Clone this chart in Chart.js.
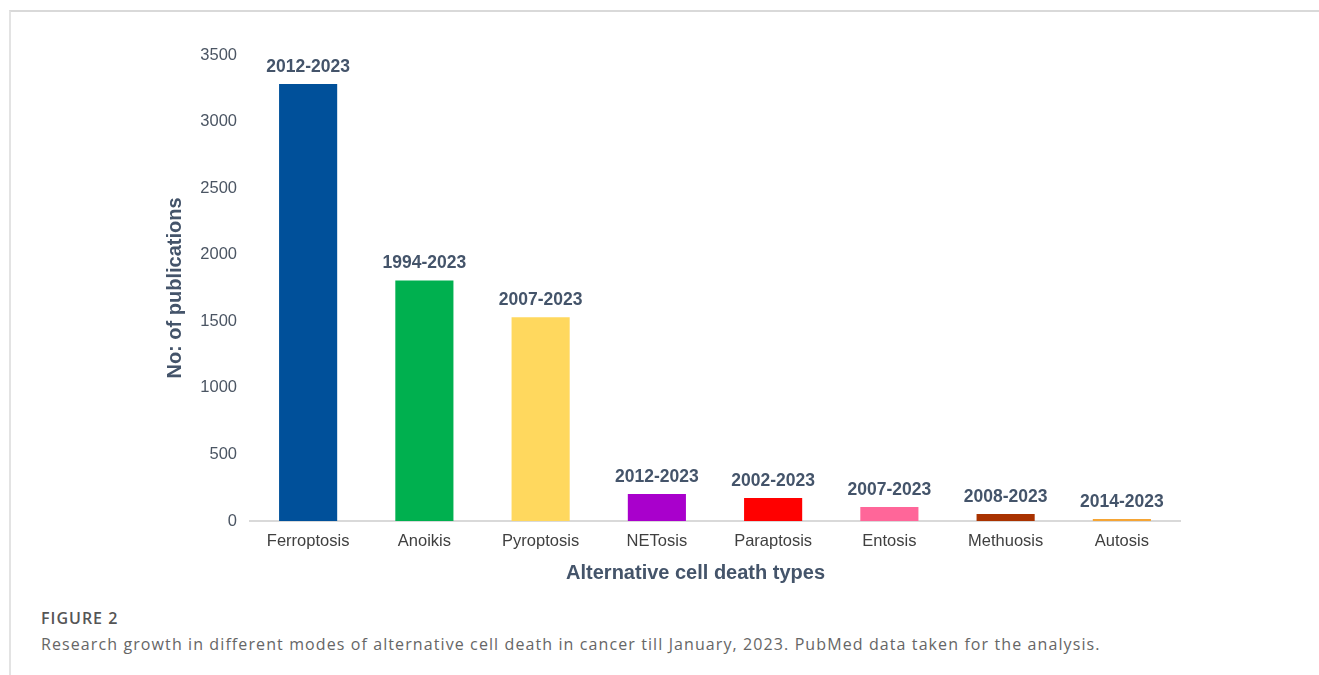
<!DOCTYPE html>
<html>
<head>
<meta charset="utf-8">
<script src="https://cdn.jsdelivr.net/npm/chart.js@4.4.0/dist/chart.umd.min.js"></script>
<style>
  body { margin: 0; background: #fff; width: 1319px; height: 675px; overflow: hidden; position: relative; }
  #frame { position: absolute; left: 9px; top: 10px; width: 1310px; height: 665px; border-top: 2px solid #d9d9d9; border-left: 2px solid #e3e3e3; }
  #chartBox { position: absolute; left: 0; top: 0; width: 1319px; height: 600px; }
  .cap-title { position: absolute; left: 41px; top: 607px; font-family: "Open Sans", sans-serif; font-size: 16px; color: #555; font-weight: 600; letter-spacing: 1px; }
  .cap-text { position: absolute; left: 41px; top: 633px; font-family: "Open Sans", sans-serif; font-size: 16px; color: #666; white-space: nowrap; letter-spacing: 1.1px; }
</style>
</head>
<body>
<div id="frame"></div>
<div id="chartBox"><canvas id="myChart"></canvas></div>
<div class="cap-title">FIGURE 2</div>
<div class="cap-text">Research growth in different modes of alternative cell death in cancer till January, 2023. PubMed data taken for the analysis.</div>
<script>
var deathTypes = ["Ferroptosis", "Anoikis", "Pyroptosis", "NETosis", "Paraptosis", "Entosis", "Methuosis", "Autosis"];
var publications = [3283, 1806, 1530, 202, 172, 105, 52, 15];
var yearRanges = ["2012-2023", "1994-2023", "2007-2023", "2012-2023", "2002-2023", "2007-2023", "2008-2023", "2014-2023"];
var barColors = ["#00509A", "#00B04F", "#FFD85E", "#A900CC", "#FF0000", "#FF6699", "#A93200", "#F5A535"];

var textColor = "#44546A";
var fontFamily = "'Liberation Sans', Arial, sans-serif";

// year range labels above each bar
var yearLabels = {
  id: "yearLabels",
  afterDatasetsDraw: function (chart) {
    var ctx = chart.ctx;
    var meta = chart.getDatasetMeta(0);
    ctx.save();
    ctx.font = "bold 17.5px " + fontFamily;
    ctx.fillStyle = textColor;
    ctx.textAlign = "center";
    ctx.textBaseline = "middle";
    for (let i = 0; i < meta.data.length; i++) {
      let bar = meta.data[i];
      ctx.fillText(yearRanges[i], bar.x, bar.y - 17);
    }
    ctx.restore();
  }
};

new Chart("myChart", {
  type: "bar",
  data: {
    labels: deathTypes,
    datasets: [{
      data: publications,
      backgroundColor: barColors,
      barPercentage: 0.5,
      categoryPercentage: 1
    }]
  },
  plugins: [yearLabels],
  options: {
    responsive: true,
    maintainAspectRatio: false,
    animation: false,
    layout: { padding: { left: 163, right: 139, top: 55, bottom: 0 } },
    plugins: {
      legend: { display: false },
      tooltip: { enabled: false }
    },
    scales: {
      x: {
        grid: { display: false, drawTicks: false },
        border: { display: true, color: "#d9d9d9", width: 2 },
        ticks: {
          padding: 11,
          color: "#404040",
          font: { family: fontFamily, size: 16.5 }
        },
        title: {
          display: true,
          // trailing spaces nudge the title a bit left of centre, as in the original
          text: "Alternative cell death types       ",
          color: textColor,
          padding: { top: 0, bottom: 15 },
          font: { family: fontFamily, size: 20, weight: "bold" }
        },
        afterFit: function (scale) { scale.height = 79; }
      },
      y: {
        min: 0,
        max: 3500,
        grid: { display: false, drawTicks: false },
        border: { display: false },
        ticks: {
          stepSize: 500,
          padding: 13,
          color: "#4B5563",
          font: { family: fontFamily, size: 16.5 },
          callback: function (value) { return String(value); }
        },
        title: {
          display: true,
          text: "No: of publications",
          color: textColor,
          padding: { top: 0, bottom: 0 },
          font: { family: fontFamily, size: 20, weight: "bold" }
        },
        afterFit: function (scale) { scale.width = 87; }
      }
    }
  }
});
</script>
</body>
</html>
